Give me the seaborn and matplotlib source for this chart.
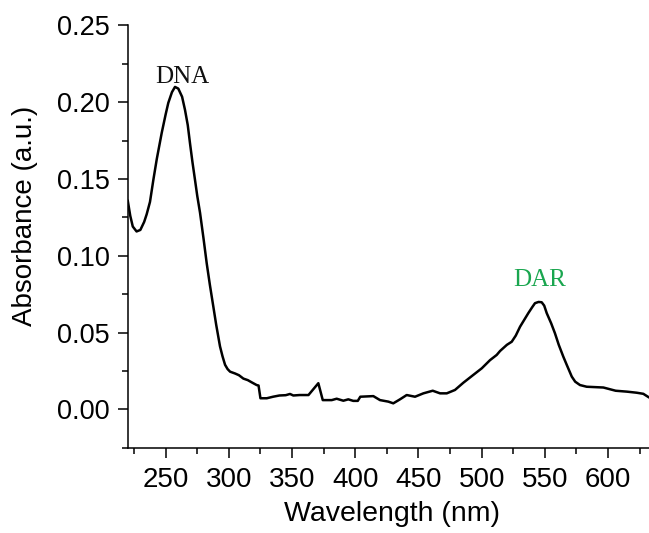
import matplotlib
matplotlib.use("Agg")
import matplotlib.pyplot as plt
import seaborn as sns
import pandas as pd
from matplotlib.ticker import MultipleLocator, FormatStrFormatter

wavelength = [220, 222, 224, 227, 230, 233, 235, 237.6, 240.3, 243, 246.9, 250, 252.1, 255,
              257.4, 260, 263, 265.3, 267.5, 269.3, 271.2, 273.2, 275, 277.2, 280, 282.5,
              285, 287.7, 290, 293, 295, 297, 299, 301, 305, 308,
              311.5, 315, 318, 322, 323.5, 325, 330, 335, 340, 345, 348.4, 351, 356, 363,
              370.8, 374.3, 381.4, 385.3, 390.6, 394.5, 398.4, 402, 404, 414.3, 419.6, 426.2,
              430.1, 435.4, 440.7, 447.3, 453.9, 461.3, 467.1, 472.4, 478.9, 485.5, 493.4,
              500.1, 506.6, 511.9, 514.6, 520, 523.8, 527, 530.4, 536.9, 540, 542.2, 545, 547.5,
              549.5, 551.5, 555, 558, 561, 564.6, 567.3, 571.3, 574, 577.8, 583.1, 596.3, 606,
              615, 622.7, 627.9, 631.9, 633]
absorbance = [0.136, 0.126, 0.119, 0.1158, 0.1168, 0.122, 0.127, 0.135, 0.1495, 0.163, 0.180,
              0.192, 0.1995, 0.2065, 0.2099, 0.2088, 0.2035, 0.195, 0.185, 0.173, 0.161, 0.1495,
              0.139, 0.128, 0.111, 0.095, 0.081, 0.067, 0.055, 0.041, 0.0345, 0.029, 0.0262,
              0.0245, 0.0233, 0.0222, 0.020, 0.019, 0.0176, 0.0158, 0.0155,
              0.0072, 0.0072, 0.0082, 0.009, 0.0092, 0.010, 0.009, 0.0093, 0.0093, 0.017,
              0.006, 0.006, 0.0069, 0.0056, 0.0065, 0.0055, 0.0055, 0.0082, 0.0086, 0.006,
              0.005, 0.0039, 0.0065, 0.0093, 0.0082, 0.0104, 0.0121, 0.0104, 0.0104, 0.0126,
              0.0173, 0.0224, 0.0267, 0.032, 0.0354, 0.038, 0.042, 0.044, 0.048, 0.0538,
              0.0626, 0.0665, 0.0691, 0.0699, 0.0697, 0.0675, 0.0626, 0.056, 0.0495, 0.042,
              0.0343, 0.029, 0.0213, 0.018, 0.0158, 0.0147, 0.0142, 0.0121, 0.0115, 0.0108,
              0.0101, 0.0080, 0.0075]

peak_labels = ["DNA", "DAR"]
peak_label_x = [263.4, 546.2]
peak_label_y = [0.2125, 0.080]
peak_label_colors = ["#111111", "#1aa64f"]

sns.set_style("ticks")
plt.rcParams["font.family"] = ["Liberation Sans", "DejaVu Sans"]
for key in ["text.color", "axes.labelcolor", "xtick.color", "ytick.color", "axes.edgecolor"]:
    plt.rcParams[key] = "black"

df = pd.DataFrame({"Wavelength": wavelength, "Absorbance": absorbance})

fig = plt.figure(figsize=(6.49, 5.33), dpi=100)
ax = fig.add_axes([0.1968, 0.160, 0.8032, 0.7925])
sns.lineplot(data=df, x="Wavelength", y="Absorbance", ax=ax, color="black", linewidth=1.8,
             sort=False)

ax.set_xlim(220, 632.4)
ax.set_ylim(-0.025, 0.25)
ax.xaxis.set_major_locator(MultipleLocator(50))
ax.xaxis.set_minor_locator(MultipleLocator(25))
ax.yaxis.set_major_locator(MultipleLocator(0.05))
ax.yaxis.set_minor_locator(MultipleLocator(0.025))
ax.yaxis.set_major_formatter(FormatStrFormatter("%.2f"))

for s in ["top", "right"]:
    ax.spines[s].set_visible(False)
for s in ["left", "bottom"]:
    ax.spines[s].set_linewidth(1.1)
    ax.spines[s].set_color("black")

ax.tick_params(axis="both", which="major", direction="out", length=7, width=1.1, color="black")
ax.tick_params(axis="both", which="minor", direction="out", length=4, width=1.1, color="black")
ax.tick_params(axis="x", which="major", labelsize=20, pad=7, labelcolor="black")
ax.tick_params(axis="y", which="major", labelsize=19.5, pad=6, labelcolor="black")

ax.set_xlabel("Wavelength (nm)", fontsize=20.5, va="center", color="black")
ax.xaxis.set_label_coords(0.507, -0.157)
ax.set_ylabel("Absorbance (a.u.)", fontsize=20, va="center", color="black")
ax.yaxis.set_label_coords(-0.197, 0.549)

for t, x, y, c in zip(peak_labels, peak_label_x, peak_label_y, peak_label_colors):
    ax.text(x, y, t, color=c, fontsize=18, ha="center", va="baseline",
            family=["Liberation Serif", "DejaVu Serif"])

fig.savefig("out.png", dpi=100)
